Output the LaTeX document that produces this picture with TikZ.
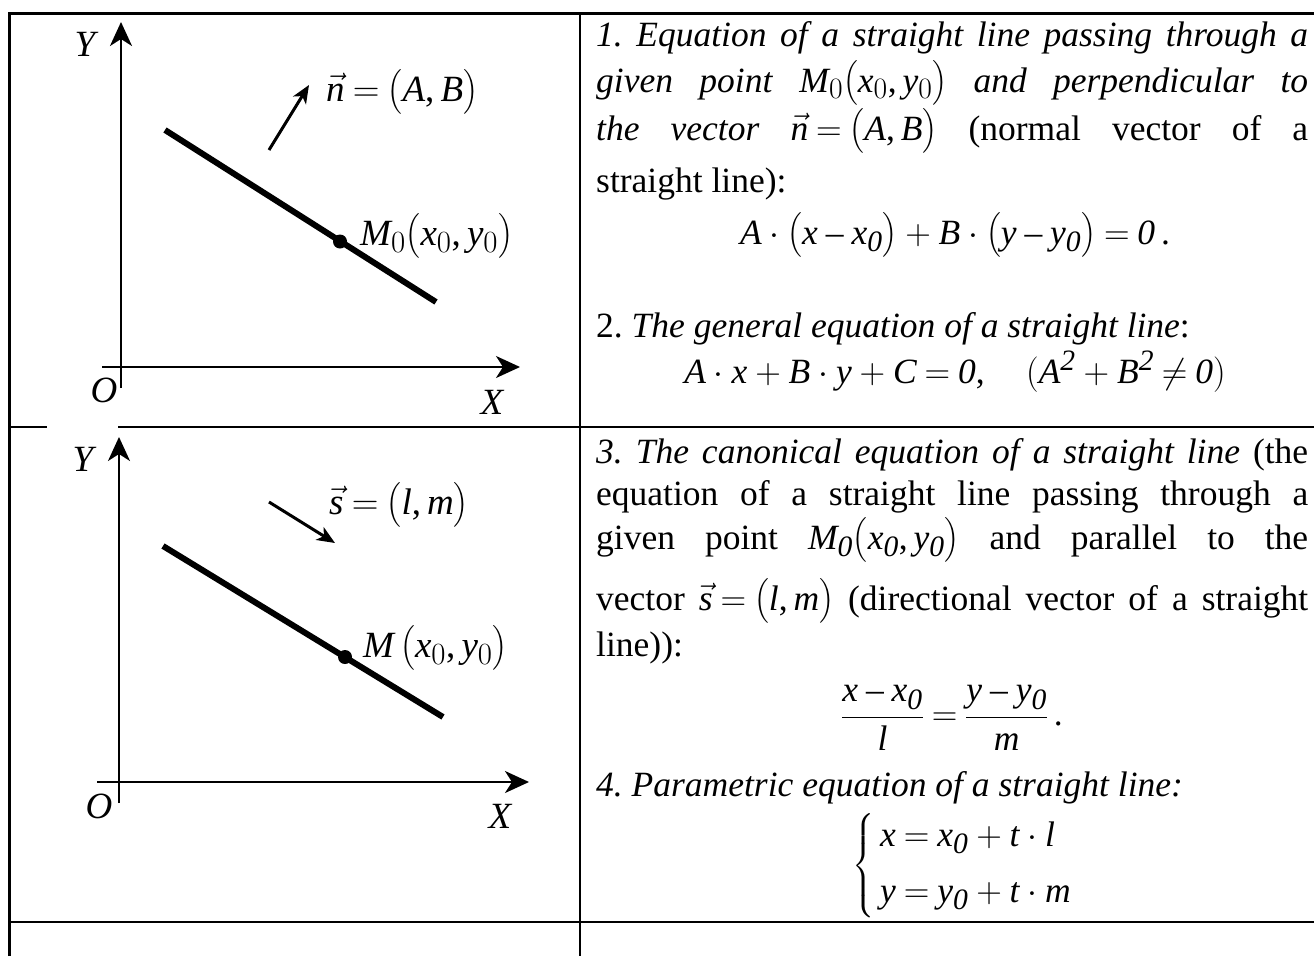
\RequirePackage{fix-cm}
\documentclass[tikz,border=0pt]{standalone}
\usepackage{amsmath}
\usepackage{fontspec}
\setmainfont{Liberation Serif}
\usepackage[italic]{mathastext}
\usetikzlibrary{arrows.meta}
\frenchspacing
\thickmuskip=4mu
\newcommand{\iz}{\textit{0}}
\newcommand{\iztwo}{\textit{2}}

\begin{document}
\begin{tikzpicture}[
    x=1pt, y=-1pt,
    frame/.style={line width=2.6pt},
    axis/.style={line width=2.2pt,-{Stealth[length=24pt,width=22pt,inset=7pt]}},
    trace/.style={line width=6pt},
    vecarrow/.style={line width=3pt,-{Stealth[length=18pt,width=15pt,inset=5pt]}},
    dot/.style={circle,fill=black,inner sep=0pt,minimum size=14pt},
    lbl/.style={font=\fontsize{37}{42}\selectfont,inner sep=0pt},
    txt/.style={font=\fontsize{35.5}{42}\selectfont,inner sep=0pt,anchor=base west},
    formula/.style={font=\fontsize{35.5}{42}\selectfont,inner sep=0pt}
]
\useasboundingbox (0,0) rectangle (1314,956);

% table rules
\draw[frame] (9.5,956) -- (9.5,13.5) -- (1314,13.5);
\draw[frame] (580,13.5) -- (580,956);
\draw[frame] (9.5,427) -- (1314,427);
\draw[frame] (9.5,922) -- (1314,922);
\fill[white] (47,424) rectangle (118,430.5);

% first figure: normal vector
\coordinate (ybot1) at (121,388);
\coordinate (ytop1) at (121,22);
\coordinate (xleft1) at (102,367);
\coordinate (xright1) at (520,367);
\coordinate (la1) at (165,130);
\coordinate (lb1) at (436,302);
\coordinate (nfrom) at (269,150);
\coordinate (nto) at (309,85);
\draw[axis] (ybot1) -- (ytop1);
\draw[axis] (xleft1) -- (xright1);
\draw[trace] (la1) -- (lb1);
\draw[vecarrow] (nfrom) -- (nto);
\node[dot] (m1) at (340,241.5) {};
\node[lbl] (ylab1) at (85,44) {$Y$};
\node[lbl] (olab1) at (104,390) {$O$};
\node[lbl] (xlab1) at (492,402) {$X$};
\node[lbl,anchor=west] (mlab1) at (360,236) {$M_0\bigl(x_0,y_0\bigr)$};
\node[lbl,anchor=west] (nlab) at (326,92) {$\vec n=\bigl(A,B\bigr)$};

% second figure: direction vector
\coordinate (ybot2) at (119,803);
\coordinate (ytop2) at (119,437);
\coordinate (xleft2) at (97,782);
\coordinate (xright2) at (529,782);
\coordinate (la2) at (163,546);
\coordinate (lb2) at (443,717);
\coordinate (sfrom) at (269,502);
\coordinate (sto) at (335,543);
\draw[axis] (ybot2) -- (ytop2);
\draw[axis] (xleft2) -- (xright2);
\draw[trace] (la2) -- (lb2);
\draw[vecarrow] (sfrom) -- (sto);
\node[dot] (m2) at (345,657) {};
\node[lbl] (ylab2) at (83,459) {$Y$};
\node[lbl] (olab2) at (99,806) {$O$};
\node[lbl] (xlab2) at (500,816) {$X$};
\node[lbl,anchor=west] (mlab2) at (363,648) {$M\,\bigl(x_0,y_0\bigr)$};
\node[lbl,anchor=west] (slab) at (329,505) {$\vec s=\bigl(l,m\bigr)$};

% first row text
\node[txt] (t1a) at (596,46) {\makebox[712pt][s]{\textit{1. Equation of a straight line passing through a}}};
\node[txt] (t1b) at (596,92) {\makebox[712pt][s]{\textit{given point} \mbox{$M_0\bigl(x_0,y_0\bigr)$} \textit{and perpendicular to}}};
\node[txt] (t1c) at (596,140) {\makebox[712pt][s]{\textit{the vector} \mbox{$\vec n=\bigl(A,B\bigr)$} (normal vector of a}};
\node[txt] (t1d) at (596,192) {straight line):};
\node[formula,anchor=base] (eq1) at (955,244) {$A\cdot\bigl(x-x_{\iz}\bigr)+B\cdot\bigl(y-y_{\iz}\bigr)=\iz\,.$};
\node[txt] (t1e) at (596,337) {2. \textit{The general equation of a straight line}:};
\node[formula,anchor=base] (eq2) at (955,383) {$A\cdot x+B\cdot y+C=\iz,\quad (A^{\iztwo}+B^{\iztwo}\neq\iz)$};

% second row text
\node[txt] (t2a) at (596,463) {\makebox[712pt][s]{\textit{3. The canonical equation of a straight line} (the}};
\node[txt] (t2b) at (596,505) {\makebox[712pt][s]{equation of a straight line passing through a}};
\node[txt] (t2c) at (596,549) {\makebox[712pt][s]{given point \mbox{$M_{\iz}\bigl(x_{\iz},y_{\iz}\bigr)$} and parallel to the}};
\node[txt] (t2d) at (596,610) {\makebox[712pt][s]{vector \mbox{$\vec s=\bigl(l,m\bigr)$} (directional vector of a straight}};
\node[txt] (t2e) at (596,656) {line)):};
\node[formula] (eq3) at (952,718) {$\displaystyle\frac{x-x_{\iz}}{l}=\frac{y-y_{\iz}}{m}\,.$};
\node[txt] (t2f) at (596,796) {\textit{4. Parametric equation of a straight line:}};
\node[formula,anchor=west] (eq4) at (852,866) {$\left\{\begin{array}{@{\,}l}x=x_{\iz}+t\cdot l\\[14pt] y=y_{\iz}+t\cdot m\end{array}\right.$};
\end{tikzpicture}
\end{document}
